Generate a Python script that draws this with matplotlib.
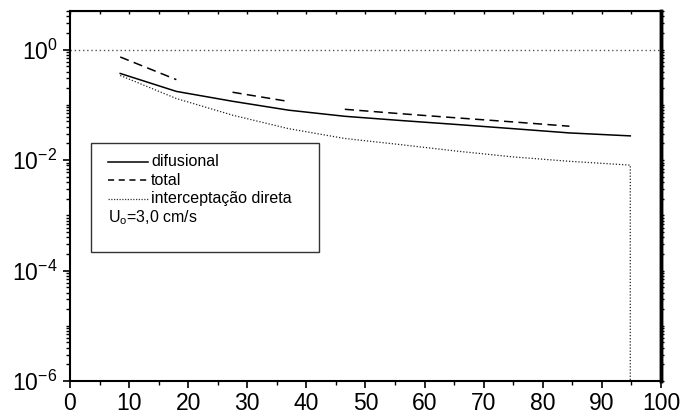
import numpy as np
import matplotlib
matplotlib.use("Agg")
import matplotlib.pyplot as plt
from matplotlib.patches import Rectangle
from matplotlib.lines import Line2D
from matplotlib.ticker import FixedLocator, LogLocator, NullFormatter, MultipleLocator

plt.rcParams['font.family'] = ['Liberation Sans', 'DejaVu Sans']
plt.rcParams['mathtext.fontset'] = 'custom'
plt.rcParams['mathtext.rm'] = 'Liberation Sans'
plt.rcParams['mathtext.it'] = 'Liberation Sans:italic'

# difusional (solid)
x_dif = [8.5, 18, 27.5, 37, 46.5, 56, 65.5, 75, 84.5, 94.8]
y_dif = [0.37, 0.175, 0.116, 0.080, 0.062, 0.052, 0.044, 0.037, 0.031, 0.0274]

# total (dashed), drawn in three separate pieces
x_tot = [[8.5, 18], [27.5, 37], [46.5, 56, 65.5, 75, 84.5]]
y_tot = [[0.735, 0.286], [0.169, 0.115], [0.083, 0.069, 0.058, 0.049, 0.041]]

# interceptacao direta (dotted), last value is zero
x_int = [8.5, 18, 27.5, 37, 46.5, 56, 65.5, 75, 84.5, 94.8, 94.8]
y_int = [0.34, 0.13, 0.065, 0.037, 0.0246, 0.019, 0.0145, 0.0114, 0.0095, 0.0081, 0.0]

ref_level = 1.0

fig = plt.figure(figsize=(6.84, 4.16), dpi=100)
ax = fig.add_axes([0.1023, 0.0841, 0.8641, 0.8895])
ax.set_yscale('log', nonpositive='clip')

ax.axhline(ref_level, color='#555555', lw=1.0, ls=(0, (1, 2)))
ax.plot(x_dif, y_dif, color='black', lw=1.1)
for xs, ys in zip(x_tot, y_tot):
    ax.plot(xs, ys, color='black', lw=1.1, ls=(0, (6, 3.5)))
ax.plot(x_int, y_int, color='#222222', lw=0.9, ls=(0, (1, 1.5)))

ax.set_xlim(0, 100)
ax.set_ylim(1e-6, 5)

ax.xaxis.set_major_locator(MultipleLocator(10))
ax.xaxis.set_minor_locator(MultipleLocator(5))
ax.yaxis.set_major_locator(FixedLocator([1e-6, 1e-4, 1e-2, 1e0]))
ax.yaxis.set_minor_locator(LogLocator(base=10, subs=np.arange(1, 10), numticks=20))
ax.yaxis.set_minor_formatter(NullFormatter())
ax.set_yticklabels([r'$\mathregular{10^{-6}}$', r'$\mathregular{10^{-4}}$',
                    r'$\mathregular{10^{-2}}$', r'$\mathregular{10^{0}}$'])

ax.tick_params(axis='both', which='major', labelsize=16.5, length=5, width=1.2,
               direction='out', top=False, right=False)
ax.tick_params(axis='both', which='minor', length=3, width=1.0, direction='out',
               top=False, right=False)
ax.tick_params(axis='y', which='major', pad=4)
ax.tick_params(axis='x', which='major', pad=3)

# small ticks on top and right
axt = ax.secondary_xaxis('top')
axt.xaxis.set_major_locator(MultipleLocator(5))
axt.tick_params(direction='in', length=2.5, width=1.0, labeltop=False)
axr = ax.secondary_yaxis('right')
axr.yaxis.set_major_locator(FixedLocator([1e-6, 1e-4, 1e-2, 1e0]))
axr.yaxis.set_minor_locator(LogLocator(base=10, subs=np.arange(1, 10), numticks=20))
axr.tick_params(which='both', direction='out', length=2, width=1.0,
                labelright=False)
axr.spines['right'].set_linewidth(2.5)

for s in ['left', 'bottom', 'top']:
    ax.spines[s].set_linewidth(1.5)
ax.spines['right'].set_linewidth(2.5)

# legend box
ax.add_patch(Rectangle((0.0355, 0.3486), 0.3858, 0.2946, transform=ax.transAxes,
                       fill=False, ec='#333333', lw=1.0))
rows = [0.5919, 0.5432, 0.4919]
labels = ['difusional', 'total', 'interceptação direta']
styles = [dict(ls='-', lw=1.1, color='black'),
          dict(ls=(0, (4, 3)), lw=1.1, color='black'),
          dict(ls=(0, (1, 1.2)), lw=0.9, color='#333333')]
for yy, lab, st in zip(rows, labels, styles):
    ax.add_line(Line2D([0.0638, 0.1320], [yy, yy], transform=ax.transAxes, **st))
    ax.text(0.1371, yy, lab, transform=ax.transAxes, fontsize=11.5,
            va='center', ha='left')
ax.text(0.0643, 0.4405, r'U$_{\mathregular{o}}$=3,0 cm/s', transform=ax.transAxes,
        fontsize=11.5, va='center', ha='left')

fig.savefig('out.png', dpi=100)
